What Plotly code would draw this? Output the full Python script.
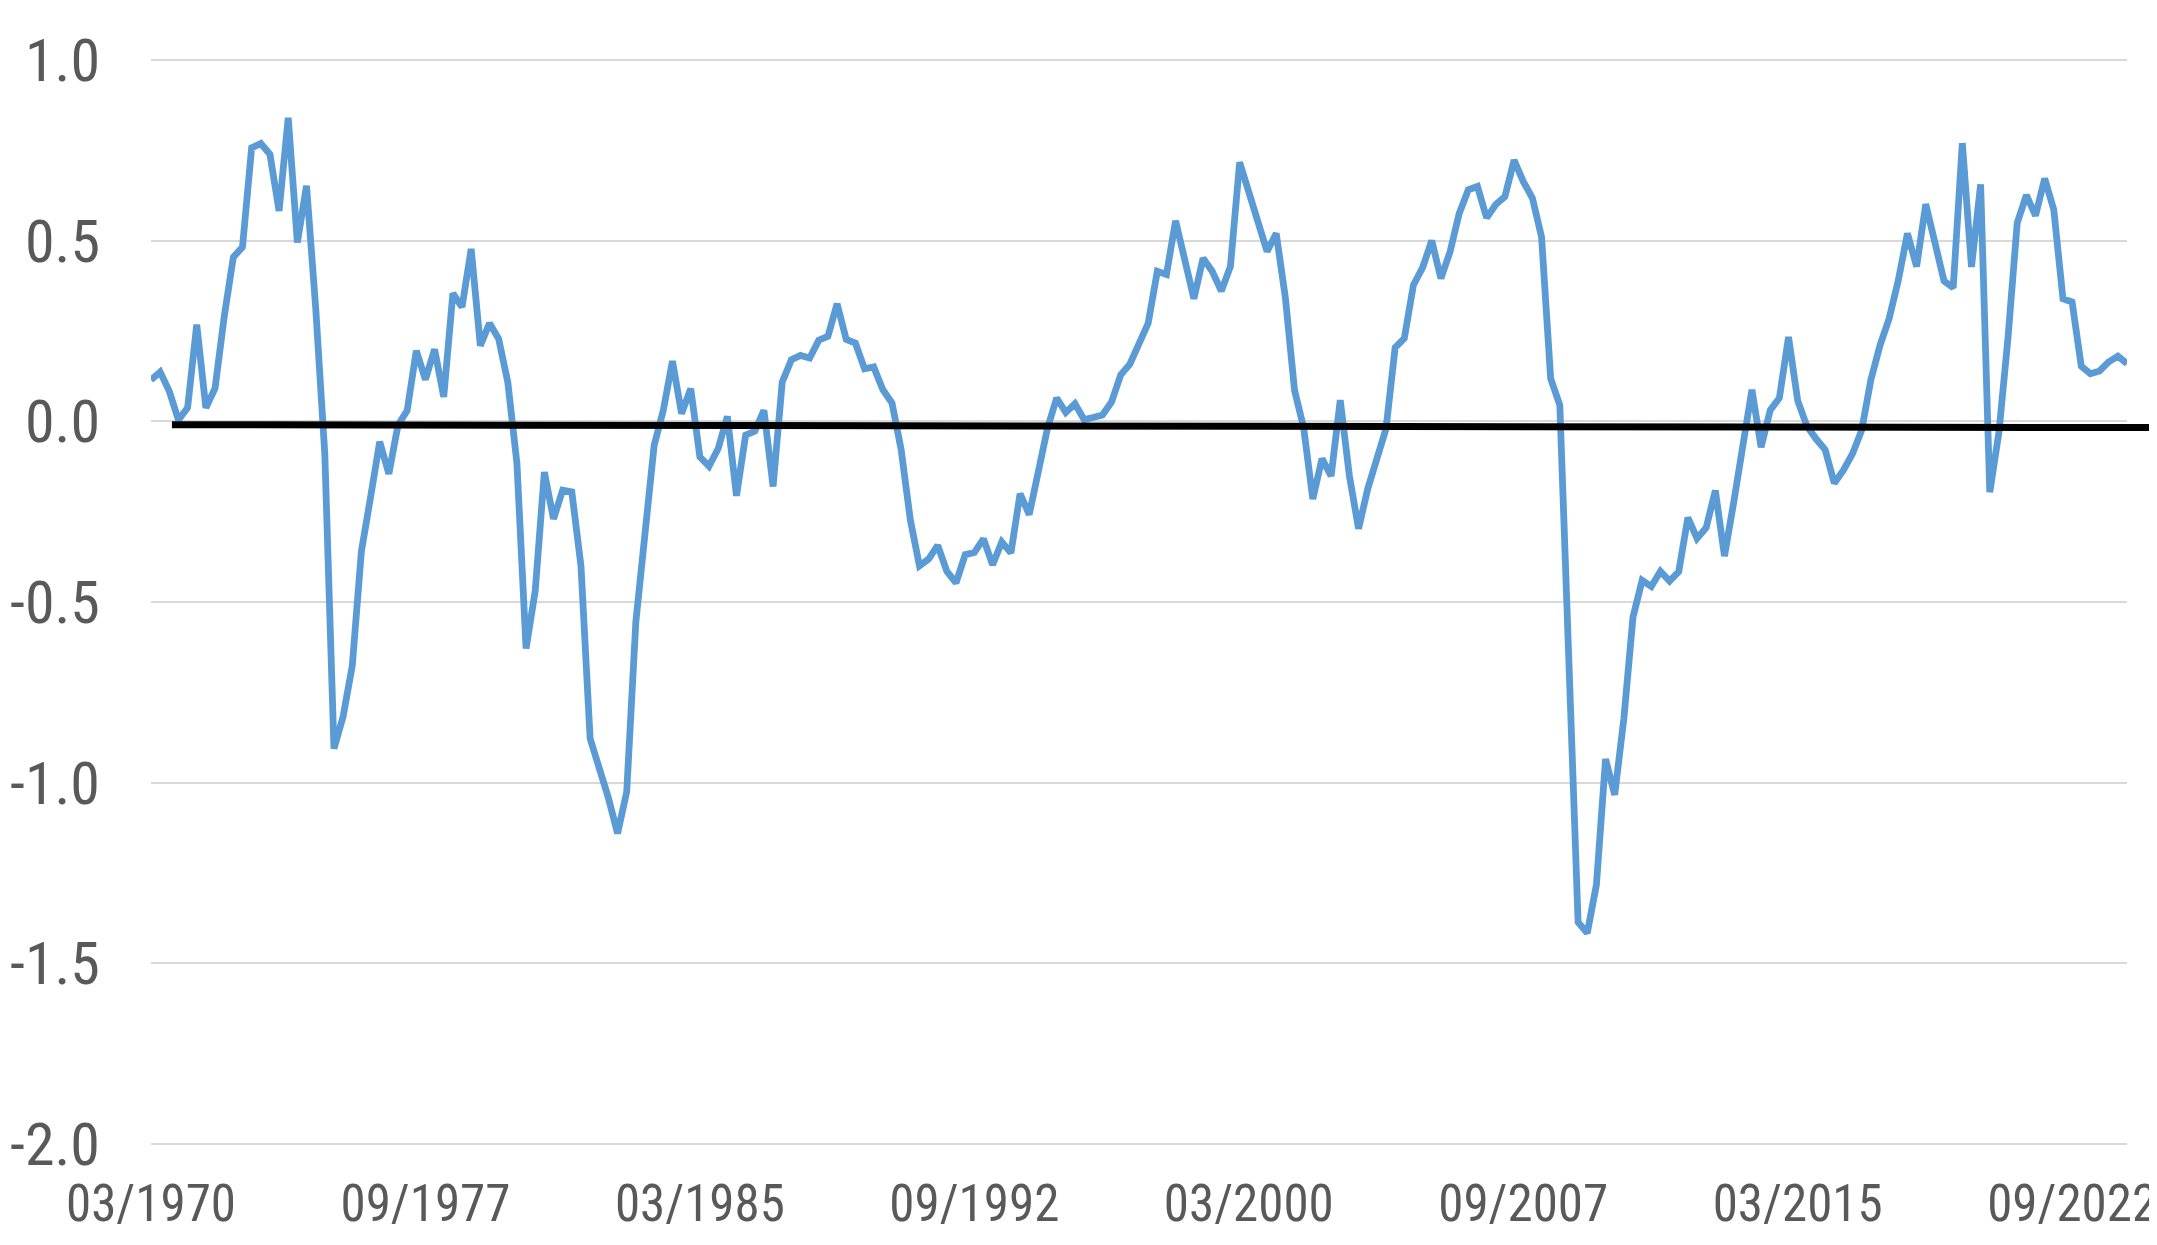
import pandas as pd
import plotly.graph_objects as go

# quarterly categories 03/1970 .. 03/2024
quarters = pd.period_range("1970Q1", "2024Q1", freq="Q")
categories = [f"{q.end_time.month:02d}/{q.year}" for q in quarters]

values = [
    0.115, 0.137, 0.084, 0.004, 0.038, 0.268, 0.038, 0.092, 0.29, 0.455,
    0.483, 0.758, 0.77, 0.74, 0.583, 0.841, 0.496, 0.653, 0.316, -0.09,
    -0.906, -0.817, -0.677, -0.359, -0.21, -0.056, -0.145, -0.01, 0.03, 0.196,
    0.116, 0.20, 0.068, 0.355, 0.317, 0.478, 0.21, 0.272, 0.229, 0.109,
    -0.116, -0.629, -0.469, -0.14, -0.27, -0.19, -0.195, -0.40, -0.878, -0.96,
    -1.043, -1.141, -1.026, -0.555, -0.325, -0.066, 0.031, 0.167, 0.022, 0.091,
    -0.098, -0.124, -0.075, 0.014, -0.206, -0.038, -0.027, 0.031, -0.18, 0.109,
    0.171, 0.183, 0.176, 0.225, 0.236, 0.326, 0.227, 0.217, 0.146, 0.151,
    0.088, 0.051, -0.078, -0.272, -0.40, -0.381, -0.343, -0.415, -0.447, -0.369,
    -0.363, -0.325, -0.397, -0.334, -0.364, -0.20, -0.258, -0.148, -0.018, 0.065,
    0.025, 0.049, 0.005, 0.011, 0.018, 0.054, 0.129, 0.159, 0.212, 0.272,
    0.416, 0.407, 0.556, 0.448, 0.34, 0.452, 0.416, 0.361, 0.43, 0.718,
    0.64, 0.548, 0.471, 0.521, 0.343, 0.087, -0.018, -0.215, -0.103, -0.151,
    0.059, -0.151, -0.297, -0.187, -0.11, -0.02, 0.205, 0.23, 0.378, 0.426,
    0.501, 0.396, 0.47, 0.576, 0.642, 0.651, 0.564, 0.601, 0.623, 0.724,
    0.665, 0.619, 0.512, 0.119, 0.045, -0.62, -1.387, -1.417, -1.283, -0.935,
    -1.034, -0.823, -0.542, -0.44, -0.457, -0.415, -0.442, -0.416, -0.266, -0.324,
    -0.294, -0.191, -0.373, -0.225, -0.071, 0.088, -0.071, 0.031, 0.065, 0.234,
    0.058, -0.012, -0.048, -0.078, -0.171, -0.135, -0.089, -0.024, 0.115, 0.211,
    0.285, 0.391, 0.521, 0.429, 0.602, 0.495, 0.389, 0.37, 0.771, 0.428,
    0.657, -0.196, -0.03, 0.234, 0.55, 0.627, 0.57, 0.673, 0.586, 0.34,
    0.331, 0.153, 0.132, 0.14, 0.165, 0.181, 0.16,
]

x_tick_labels = ["03/1970", "09/1977", "03/1985", "09/1992",
                 "03/2000", "09/2007", "03/2015", "09/2022"]
y_tick_vals = [1.0, 0.5, 0.0, -0.5, -1.0, -1.5, -2.0]
y_tick_text = ["1.0", "0.5", "0.0", "-0.5", "-1.0", "-1.5", "-2.0"]

# hand-drawn black reference line (value at left and right ends)
ref_line_values = [-0.009, -0.017]

Y_MIN, Y_MAX = -2.0, 1.0
PAD = 0.004
FONT = "Liberation Sans Narrow, Arial Narrow, Roboto Condensed, DejaVu Sans Condensed, sans-serif"

fig = go.Figure()
fig.add_trace(go.Scatter(
    x=categories, y=values, mode="lines",
    line=dict(color="#5B9BD5", width=6.8),
    showlegend=False,
))


def to_paper(v):
    lo, hi = Y_MIN - PAD, Y_MAX + PAD
    return (v - lo) / (hi - lo)


fig.add_shape(
    type="line", xref="paper", yref="paper",
    x0=0.0106, x1=1.016,
    y0=to_paper(ref_line_values[0]), y1=to_paper(ref_line_values[1]),
    line=dict(color="black", width=7),
    layer="above",
)

# page body has an 8px margin, so the figure is 8px smaller and shifted
fig.update_layout(
    width=2149, height=1237,
    margin=dict(l=143, r=30, t=51, b=100, autoexpand=False),
    paper_bgcolor="white", plot_bgcolor="white",
    font=dict(family=FONT, color="#595959"),
)
fig.update_xaxes(
    automargin=False,
    type="category", categoryorder="array", categoryarray=categories,
    range=[0, len(categories) - 1],
    tickmode="array", tickvals=x_tick_labels, ticktext=x_tick_labels,
    tickangle=0,
    showgrid=False, zeroline=False, showline=False, ticks="",
    tickfont=dict(size=51, family=FONT, color="#595959"),
    ticklabelstandoff=24,
)
fig.update_yaxes(
    automargin=False,
    range=[Y_MIN - PAD, Y_MAX + PAD],
    tickmode="array", tickvals=y_tick_vals, ticktext=y_tick_text,
    showgrid=True, gridcolor="#D9D9D9", gridwidth=2,
    zeroline=False, showline=False, ticks="",
    tickfont=dict(size=60, family=FONT, color="#595959"),
    ticklabelstandoff=50,
)

fig.write_html("out.html")
